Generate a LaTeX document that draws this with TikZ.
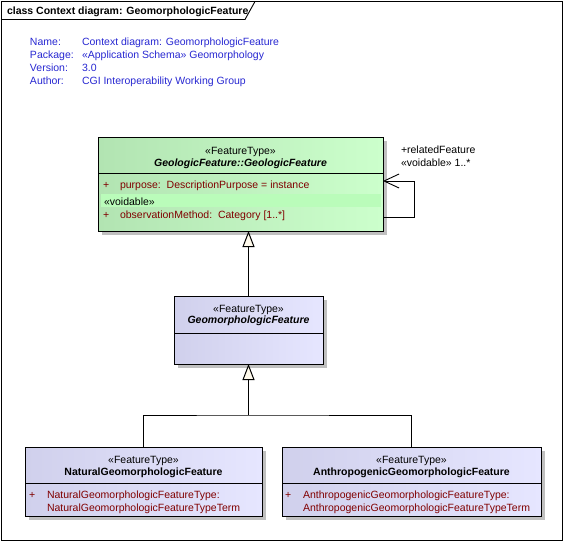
\documentclass[tikz,border=0pt]{standalone}
\usepackage{fontspec}
\setmainfont{Liberation Sans}
\usetikzlibrary{arrows.meta,calc,shadows}
\definecolor{hdrblue}{RGB}{40,40,210}
\definecolor{attrred}{RGB}{128,0,0}
\definecolor{greenL}{RGB}{178,228,178}
\definecolor{greenR}{RGB}{204,255,204}
\definecolor{greenBand}{RGB}{186,252,186}
\definecolor{lavL}{RGB}{208,208,236}
\definecolor{lavR}{RGB}{230,230,255}
\definecolor{cream}{RGB}{255,250,236}
\definecolor{shadowgray}{RGB}{192,192,192}
\begin{document}
\begin{tikzpicture}[x=1pt,y=-1pt,
  font=\fontsize{10.5}{12}\selectfont,
  every node/.style={inner sep=0pt, outer sep=0pt},
  classbox/.style={draw=black, line width=1pt, anchor=north west,
    drop shadow={shadow xshift=3.5pt, shadow yshift=-3.5pt, fill=shadowgray, opacity=1}},
  greenbox/.style={classbox, left color=greenL, right color=greenR},
  lavbox/.style={classbox, left color=lavL, right color=lavR},
  txt/.style={anchor=base west},
  ctxt/.style={anchor=base},
  hdr/.style={txt, text=hdrblue},
  attr/.style={txt, text=attrred},
  line/.style={draw=black, line width=1pt},
  sepline/.style={draw=black, line width=1pt},
  gen/.style={line, -{Triangle[length=16pt,width=12pt,fill=cream]}},
  assoc/.style={draw=black, line width=0.9pt, -{Straight Barb[length=15pt,width=14pt]}}
]
\useasboundingbox (0,0) rectangle (566,541);
\fill[white] (0,0) rectangle (566,541);
% frame
\draw[line width=0.9pt] (1.5,1.5) rectangle (562,540);
\draw[line width=0.9pt] (1.5,19.5) -- (245,19.5) -- (255,1.5);
\node[txt, font=\fontsize{10.5}{12}\selectfont\bfseries] (title) at (7,14) {class Context diagram: GeomorphologicFeature};
% header
\node[hdr] (hn) at (30,45) {Name:};
\node[hdr] (hp) at (30,58) {Package:};
\node[hdr] (hv) at (30,71) {Version:};
\node[hdr] (ha) at (30,84) {Author:};
\node[hdr] (vn) at (82,45) {Context diagram: GeomorphologicFeature};
\node[hdr] (vp) at (82,58) {«Application Schema» Geomorphology};
\node[hdr] (vv) at (82,71) {3.0};
\node[hdr] (va) at (82,84) {CGI Interoperability Working Group};

% GeologicFeature
\node[greenbox, minimum width=285pt, minimum height=94pt] (geo) at (98,137) {};
\fill[greenBand] ($(geo.north west)+(3,57)$) rectangle ($(geo.north east)+(-2,70)$);
\draw[sepline] ($(geo.north west)+(0,36)$) -- ($(geo.north east)+(0,36)$);
\node[ctxt] (geoS) at ($(geo.north)+(0,17)$) {«FeatureType»};
\node[ctxt, font=\fontsize{10.5}{12}\selectfont\bfseries\itshape] (geoN) at ($(geo.north)+(0,29)$) {GeologicFeature::GeologicFeature};
\node[attr] (geoP1) at (103,188) {+};
\node[attr] (geoA1) at (120,188) {purpose:\ \ DescriptionPurpose = instance};
\node[txt] (geoV) at (104,205) {«voidable»};
\node[attr] (geoP2) at (103,218) {+};
\node[attr] (geoA2) at (120,218) {observationMethod:\ \ Category [1..*]};
% self association
\draw[assoc] ($(geo.east)+(0,33)$) -- ++(31,0) -- ++(0,-36) -- ($(geo.east)+(0,-3)$);
\node[txt] (relA) at (401,153) {+relatedFeature};
\node[txt] (relB) at (401,166) {«voidable» 1..*};

% GeomorphologicFeature
\node[lavbox, minimum width=149pt, minimum height=68pt] (geom) at (174,296) {};
\draw[sepline] ($(geom.north west)+(0,37)$) -- ($(geom.north east)+(0,37)$);
\node[ctxt] (geomS) at ($(geom.north)+(0,16)$) {«FeatureType»};
\node[ctxt, font=\fontsize{10.5}{12}\selectfont\bfseries\itshape] (geomN) at ($(geom.north)+(0,27)$) {GeomorphologicFeature};

% Natural
\node[lavbox, minimum width=237pt, minimum height=69pt] (nat) at (25,447) {};
\draw[sepline] ($(nat.north west)+(0,36)$) -- ($(nat.north east)+(0,36)$);
\node[ctxt] (natS) at ($(nat.north)+(0,16)$) {«FeatureType»};
\node[ctxt, font=\fontsize{10.5}{12}\selectfont\bfseries] (natN) at ($(nat.north)+(0,28)$) {NaturalGeomorphologicFeature};
\node[attr] (natP) at (29,498) {+};
\node[attr] (natA1) at (47,498) {NaturalGeomorphologicFeatureType:};
\node[attr] (natA2) at (47,511) {NaturalGeomorphologicFeatureTypeTerm};

% Anthropogenic
\node[lavbox, minimum width=259pt, minimum height=69pt] (anth) at (282,447) {};
\draw[sepline] ($(anth.north west)+(0,36)$) -- ($(anth.north east)+(0,36)$);
\node[ctxt] (anthS) at ($(anth.north)+(0,16)$) {«FeatureType»};
\node[ctxt, font=\fontsize{10.5}{12}\selectfont\bfseries] (anthN) at ($(anth.north)+(0,28)$) {AnthropogenicGeomorphologicFeature};
\node[attr] (anthP) at (285,498) {+};
\node[attr] (anthA1) at (303,498) {AnthropogenicGeomorphologicFeatureType:};
\node[attr] (anthA2) at (303,511) {AnthropogenicGeomorphologicFeatureTypeTerm};

% generalizations
\draw[gen] (geom.north) -- (geo.south -| geom.north);
\coordinate (junc) at ($(geom.south)+(0,51)$);
\draw[gen] (junc) -- (geom.south);
\draw[line] (nat.north) |- (junc) -| (anth.north);
\end{tikzpicture}
\end{document}
